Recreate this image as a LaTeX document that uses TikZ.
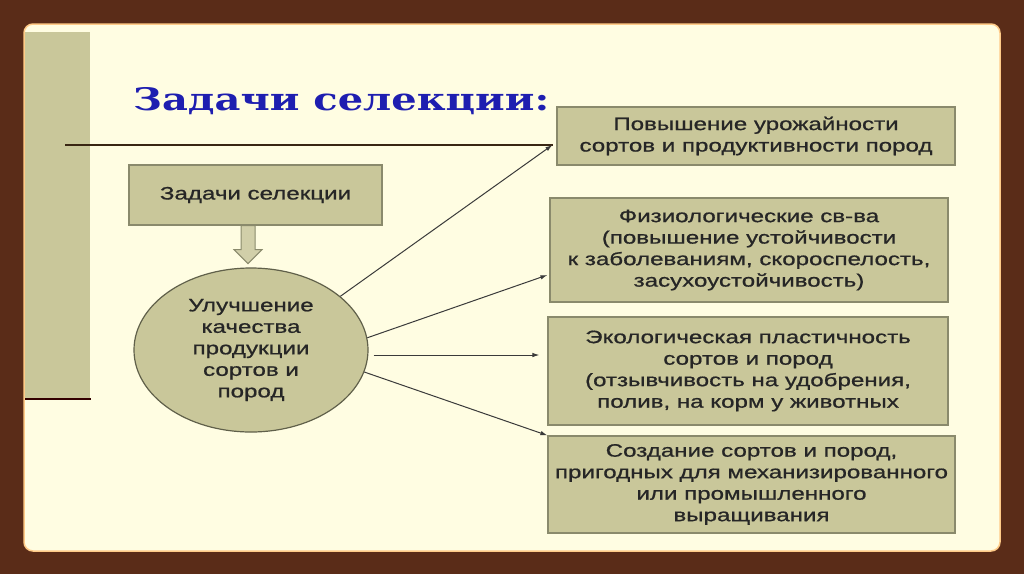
\documentclass[tikz,border=0pt]{standalone}
\usepackage{fontspec}
\usetikzlibrary{arrows.meta,shapes.geometric}
\newfontfamily\boxfont[FakeStretch=1.34,FakeBold=0.8]{Liberation Sans}
\newfontfamily\titlefont[FakeStretch=1.29]{DejaVu Serif}
\definecolor{wood}{HTML}{5A2C18}
\definecolor{slide}{HTML}{FFFDE2}
\definecolor{khaki}{HTML}{C9C79A}
\definecolor{kborder}{HTML}{8A8A6C}
\definecolor{ttl}{HTML}{1E1EB0}
\definecolor{arr}{HTML}{3A3A3A}
\tikzset{
  tbox/.style={draw=kborder, fill=khaki, line width=1.2pt, align=center, inner sep=0pt,
    font=\boxfont\fontsize{18}{21.5}\selectfont, text=black!85},
  conn/.style={draw=arr, line width=1pt, -{Latex[length=7pt,width=4.5pt]}},
}
\begin{document}
\begin{tikzpicture}[x=1pt,y=-1pt]
\useasboundingbox (0,0) rectangle (1024,574);
\fill[wood] (0,0) rectangle (1024,574);
\draw[draw=orange!40!slide, fill=slide, line width=1.5pt, rounded corners=9pt] (24,24) rectangle (1000,551);
% left bar
\fill[khaki] (25,32) rectangle (90,399);
\draw[draw=black!60!red!50!black, line width=2.5pt] (25,399) -- (91,399);
% title
\node[anchor=base west, inner sep=0pt, text=ttl, font=\titlefont\bfseries\fontsize{31}{36}\selectfont] (title) at (133,110) {Задачи селекции:};
% title rule
\coordinate (ruleA) at (65,145);
\coordinate (ruleB) at (553,145);
\draw[draw=black!70!brown, line width=1.2pt] (ruleA) -- (ruleB);
% boxes
\node[tbox, minimum width=253pt, minimum height=60pt] (b0) at (255.5,195) {Задачи селекции};
\node[tbox, minimum width=398pt, minimum height=58pt] (b1) at (756,136) {Повышение урожайности\\сортов и продуктивности пород};
\node[tbox, minimum width=398pt, minimum height=104pt] (b2) at (749,250) {Физиологические св-ва\\(повышение устойчивости\\к заболеваниям, скороспелость,\\засухоустойчивость)};
\node[tbox, minimum width=400pt, minimum height=108pt] (b3) at (748,371) {Экологическая пластичность\\сортов и пород\\(отзывчивость на удобрения,\\полив, на корм у животных};
\node[tbox, minimum width=407pt, minimum height=97pt] (b4) at (751.5,484.5) {Создание сортов и пород,\\пригодных для механизированного\\или промышленного\\выращивания};
% ellipse
\node[tbox, ellipse, draw=black!40!khaki!80!black, minimum width=234pt, minimum height=164pt] (c) at (251,350) {Улучшение\\качества\\продукции\\сортов и\\пород};
% block arrow
\draw[draw=kborder, fill=khaki!85!white, line width=1pt]
  ([xshift=-14.5pt]b0.south) -- ++(0,24) -- ++(-7,0) -- ++(14,14) -- ++(14,-14) -- ++(-7,0) -- ++(0,-24) -- cycle;
% connectors
\draw[conn] (c.31) -- ([xshift=-4pt,yshift=-9pt]b1.west);
\draw[conn] (c.6) -- ([xshift=-2pt,yshift=-25pt]b2.west);
\draw[conn] ([xshift=5pt,yshift=-5pt]c.east) -- ([xshift=-8pt,yshift=16pt]b3.west);
\draw[conn] (c.-11) -- (b4.north west);
\end{tikzpicture}
\end{document}
